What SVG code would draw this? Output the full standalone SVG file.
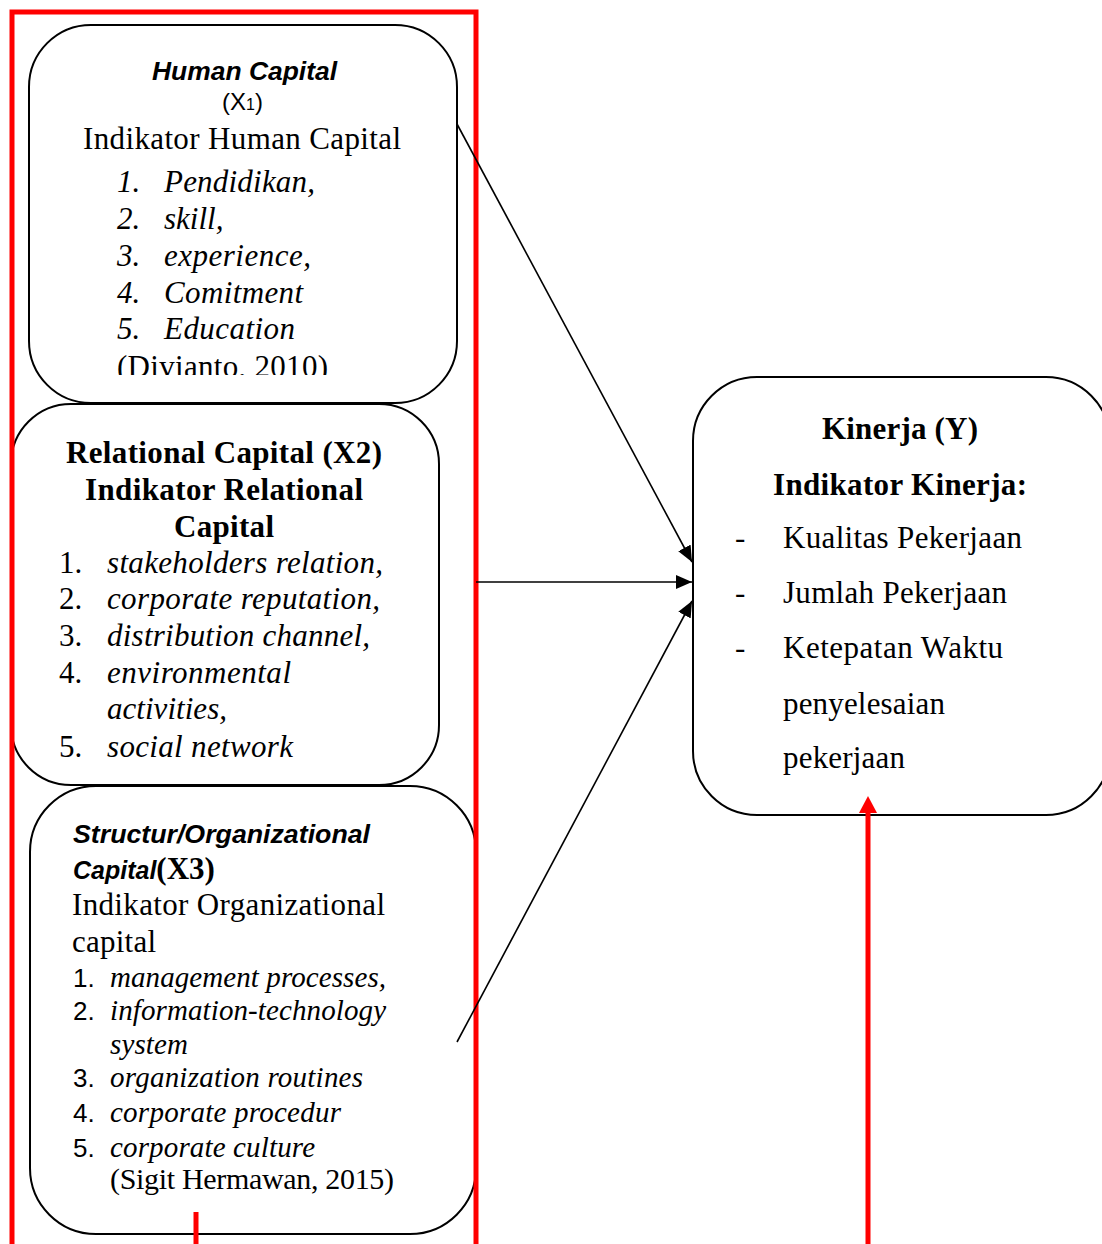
<svg xmlns="http://www.w3.org/2000/svg" width="1102" height="1244" viewBox="0 0 1102 1244">
<style>
.box{fill:#fff;stroke:#000;stroke-width:2}
.tr{font-family:"Liberation Serif","Times New Roman",serif;font-size:31px;fill:#000}
.trb{font-family:"Liberation Serif","Times New Roman",serif;font-size:31px;font-weight:bold;fill:#000}
.ti{font-family:"Liberation Serif","Times New Roman",serif;font-size:31px;font-style:italic;fill:#000}
.ti3{font-family:"Liberation Serif","Times New Roman",serif;font-size:29px;font-style:italic;fill:#000}
.tr3{font-family:"Liberation Serif","Times New Roman",serif;font-size:30px;fill:#000}
.ar{font-family:"Liberation Sans",Arial,sans-serif;font-size:24px;fill:#000}
.arn{font-family:"Liberation Sans",Arial,sans-serif;font-size:26px;fill:#000}
.abi{font-family:"Liberation Sans",Arial,sans-serif;font-size:25px;font-weight:bold;font-style:italic;fill:#000}
.conn{stroke:#000;stroke-width:1.6;fill:none}
.red{stroke:#ff0000;stroke-width:5;fill:none}
</style>
<defs>
<marker id="ah" viewBox="0 0 16 14" refX="16" refY="7" markerWidth="16" markerHeight="14" markerUnits="userSpaceOnUse" orient="auto">
<path d="M0,0 L16,7 L0,14 z" fill="#000"/>
</marker>
<clipPath id="clip1"><rect x="29" y="25" width="428" height="350"/></clipPath>
</defs>
<rect width="1102" height="1244" fill="#fff"/>

<g id="node-human-capital">
<rect class="box" x="29" y="25" width="428" height="378" rx="62" ry="62"/>
<g clip-path="url(#clip1)">
<text class="abi" x="152" y="80" textLength="185" lengthAdjust="spacingAndGlyphs">Human Capital</text>
<text class="ar" x="222" y="110">(X<tspan font-size="16">1</tspan>)</text>
<text class="tr" x="83" y="149" textLength="318" lengthAdjust="spacing">Indikator Human Capital</text>
<text class="ti" x="117" y="192">1.</text><text class="ti" x="164" y="192" textLength="151" lengthAdjust="spacing">Pendidikan,</text>
<text class="ti" x="117" y="229">2.</text><text class="ti" x="164" y="229">skill,</text>
<text class="ti" x="117" y="266">3.</text><text class="ti" x="164" y="266" textLength="147" lengthAdjust="spacing">experience,</text>
<text class="ti" x="117" y="303">4.</text><text class="ti" x="164" y="303" textLength="139" lengthAdjust="spacing">Comitment</text>
<text class="ti" x="117" y="339">5.</text><text class="ti" x="164" y="339" textLength="131" lengthAdjust="spacing">Education</text>
<text class="tr" x="117" y="377" textLength="211" lengthAdjust="spacing">(Divianto, 2010)</text>
</g>
</g>

<g id="node-relational-capital">
<rect class="box" x="11" y="404" width="428" height="381" rx="60" ry="60"/>
<text class="trb" x="66" y="463" textLength="316" lengthAdjust="spacing">Relational Capital (X2)</text>
<text class="trb" x="85" y="500" textLength="278" lengthAdjust="spacing">Indikator Relational</text>
<text class="trb" x="174" y="537" textLength="100" lengthAdjust="spacing">Capital</text>
<text class="tr" x="59" y="573">1.</text><text class="ti" x="107" y="573" textLength="276" lengthAdjust="spacing">stakeholders relation,</text>
<text class="tr" x="59" y="609">2.</text><text class="ti" x="107" y="609" textLength="273" lengthAdjust="spacing">corporate reputation,</text>
<text class="tr" x="59" y="646">3.</text><text class="ti" x="107" y="646" textLength="263" lengthAdjust="spacing">distribution channel,</text>
<text class="tr" x="59" y="683">4.</text><text class="ti" x="107" y="683" textLength="184" lengthAdjust="spacing">environmental</text>
<text class="ti" x="107" y="719" textLength="120" lengthAdjust="spacing">activities,</text>
<text class="tr" x="59" y="757">5.</text><text class="ti" x="107" y="757" textLength="186" lengthAdjust="spacing">social network</text>
</g>

<g id="node-organizational-capital">
<rect class="box" x="30" y="786" width="446" height="448" rx="66" ry="66"/>
<text class="abi" x="73" y="843" textLength="297" lengthAdjust="spacingAndGlyphs">Structur/Organizational</text>
<text x="73" y="879"><tspan class="abi">Capital</tspan><tspan class="trb">(X3)</tspan></text>
<text class="tr" x="72" y="915" textLength="313" lengthAdjust="spacing">Indikator Organizational</text>
<text class="tr" x="72" y="952" textLength="84" lengthAdjust="spacing">capital</text>
<text class="arn" x="73" y="987">1.</text><text class="ti3" x="110" y="987" textLength="276" lengthAdjust="spacing">management processes,</text>
<text class="arn" x="73" y="1020">2.</text><text class="ti3" x="110" y="1020" textLength="276" lengthAdjust="spacing">information-technology</text>
<text class="ti3" x="110" y="1054" textLength="78" lengthAdjust="spacing">system</text>
<text class="arn" x="73" y="1087">3.</text><text class="ti3" x="110" y="1087" textLength="253" lengthAdjust="spacing">organization routines</text>
<text class="arn" x="73" y="1122">4.</text><text class="ti3" x="110" y="1122" textLength="231" lengthAdjust="spacing">corporate procedur</text>
<text class="arn" x="73" y="1157">5.</text><text class="ti3" x="110" y="1157" textLength="205" lengthAdjust="spacing">corporate culture</text>
<text class="tr3" x="110" y="1189" textLength="284" lengthAdjust="spacing">(Sigit Hermawan, 2015)</text>
</g>

<g id="node-kinerja">
<rect class="box" x="693" y="377" width="417" height="438" rx="64" ry="64"/>
<text class="trb" x="822" y="439" textLength="156" lengthAdjust="spacing">Kinerja (Y)</text>
<text class="trb" x="773" y="495" textLength="254" lengthAdjust="spacing">Indikator Kinerja:</text>
<text class="tr" x="735" y="548">-</text><text class="tr" x="783" y="548" textLength="239" lengthAdjust="spacing">Kualitas Pekerjaan</text>
<text class="tr" x="735" y="603">-</text><text class="tr" x="783" y="603" textLength="224" lengthAdjust="spacing">Jumlah Pekerjaan</text>
<text class="tr" x="735" y="658">-</text><text class="tr" x="783" y="658" textLength="220" lengthAdjust="spacing">Ketepatan Waktu</text>
<text class="tr" x="783" y="714" textLength="162" lengthAdjust="spacing">penyelesaian</text>
<text class="tr" x="783" y="768" textLength="122" lengthAdjust="spacing">pekerjaan</text>
</g>

<g id="frame">
<path class="red" d="M12,1250 L12,12 L476,12 L476,1250"/>
</g>

<g id="connectors">
<line class="conn" x1="457" y1="124" x2="692" y2="562" marker-end="url(#ah)"/>
<line class="conn" x1="476" y1="582" x2="692" y2="582" marker-end="url(#ah)"/>
<line class="conn" x1="457" y1="1042" x2="692" y2="601" marker-end="url(#ah)"/>
<line class="red" x1="868" y1="1244" x2="868" y2="812"/>
<path d="M868,796 L877,813 L859,813 z" fill="#ff0000"/>
<line class="red" x1="196" y1="1212" x2="196" y2="1244"/>
</g>
</svg>
